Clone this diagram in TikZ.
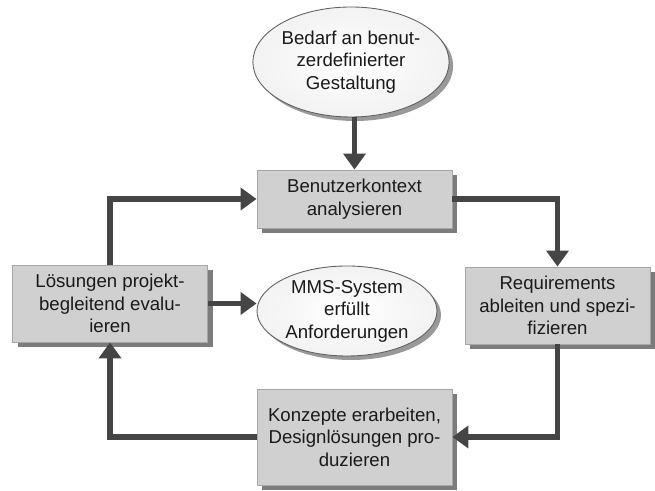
\documentclass[tikz,border=0pt]{standalone}
\usepackage{fontspec}
\setmainfont{Liberation Sans}
\usetikzlibrary{arrows.meta,shapes.geometric,shadows}
\definecolor{ink}{HTML}{1A1A1A}
\definecolor{wire}{HTML}{454545}
\definecolor{boxfill}{HTML}{D0D0D0}
\definecolor{boxline}{HTML}{A6A6A6}
\definecolor{shade}{HTML}{7C7C7C}

\begin{document}
\begin{tikzpicture}[
  font=\fontsize{10.6}{12.8}\selectfont,
  taskbox/.style={
    rectangle,
    draw=boxline,
    fill=boxfill,
    line width=.5pt,
    inner sep=0pt,
    align=center,
    text=ink,
    drop shadow={shadow xshift=.1cm,shadow yshift=-.1cm,
                 fill=shade,opacity=1}
  },
  goal/.style={
    ellipse,
    draw=black!62,
    line width=.5pt,
    inner color=white,
    outer color=black!5,
    inner sep=0pt,
    align=center,
    text=ink,
    drop shadow={shadow xshift=.08cm,shadow yshift=-.08cm,
                 fill=black!40,opacity=1}
  },
  flow/.style={
    wire,
    line width=3.4pt,
    -{Triangle[length=3.2mm,width=4.4mm]}
  }
]

\useasboundingbox (0,0) rectangle (13.10,9.82);

\node[goal,minimum width=3.70cm,minimum height=2.20cm] (need)
  at (7.02,8.58) {Bedarf an benut-\\zerdefinierter\\Gestaltung};

\node[taskbox,minimum width=3.90cm,minimum height=1.16cm] (context)
  at (7.09,5.84) {Benutzerkontext\\analysieren};

\node[taskbox,minimum width=3.90cm,minimum height=1.54cm] (evaluate)
  at (2.20,3.75) {Lösungen projekt-\\begleitend evalu-\\ieren};

\node[goal,minimum width=3.60cm,minimum height=1.80cm] (system)
  at (6.94,3.60) {MMS-System\\erfüllt\\Anforderungen};

\node[taskbox,minimum width=3.70cm,minimum height=1.54cm] (require)
  at (11.15,3.71) {Requirements\\ableiten und spezi-\\fizieren};

\node[taskbox,minimum width=3.90cm,minimum height=1.92cm] (concept)
  at (7.09,1.08) {Konzepte erarbeiten,\\Designlösungen pro-\\duzieren};

% cycle
\draw[flow] (need.south -| context.north) -- (context.north);
\draw[flow] (context.east) -| (require.north);
\draw[flow] (require.south) |- (concept.east);
\draw[flow] (concept.west) -| (evaluate.south);
\draw[flow] (evaluate.north) |- (context.west);
\draw[flow] (evaluate.east) -- (evaluate.east -| system.west);

\end{tikzpicture}
\end{document}
